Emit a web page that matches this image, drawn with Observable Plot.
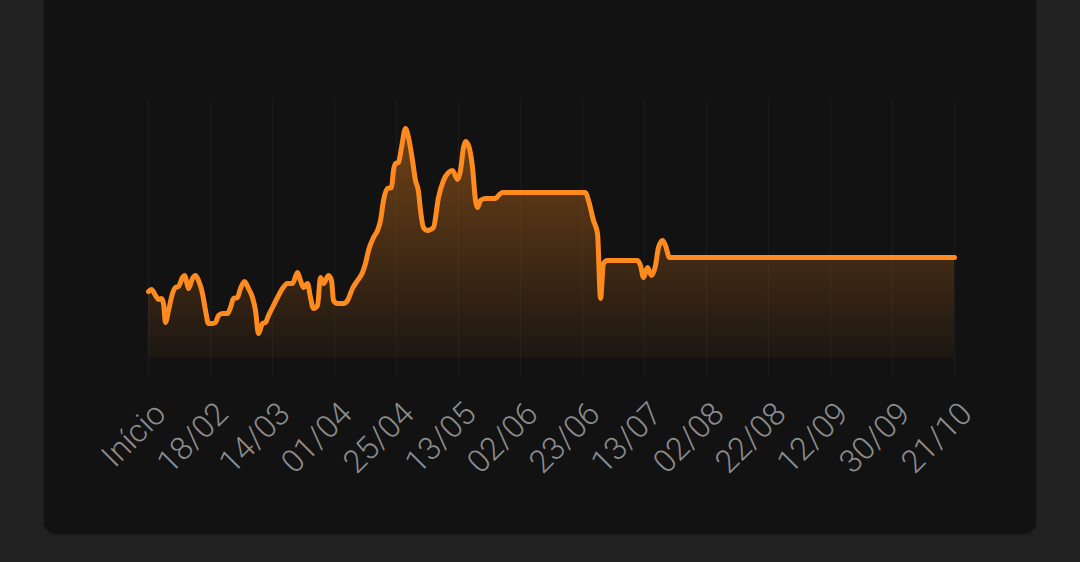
<!DOCTYPE html>
<html>
<head>
<meta charset="utf-8">
<script src="https://cdn.jsdelivr.net/npm/d3@7"></script>
<script src="https://cdn.jsdelivr.net/npm/@observablehq/plot@0.6"></script>
<style>
  html, body { margin: 0; padding: 0; width: 1080px; height: 562px; overflow: hidden; background: #212121; }
  #card { position: absolute; left: 44px; top: -20px; width: 992px; height: 553px; background: #121212; border-radius: 12px; box-shadow: 0 1px 2px rgba(0,0,0,0.5); }
  #chart { position: absolute; left: 0; top: 0; }
</style>
</head>
<body>
<div id="card"></div>
<div id="chart"></div>
<script>
// sample index along the series (0 = "Início")
const idx = [0,3,7,10,13,15,17,20,24,27,30,34,36,39,40,44,47,50,54,57,60,64,67,70,74,79,82,85,89,92,96,100,104,107,110,114,117,120,124,129,134,139,144,149,152,155,159,162,165,169,172,175,180,183,185,189,195,199,204,209,214,217,220,225,229,232,235,239,243,245,247,250,253,257,260,264,267,270,272,275,279,282,285,290,295,300,304,309,312,315,317,320,324,327,329,332,337,347,350,354,437,440,445,449,452,455,459,489,492,495,499,503,507,510,514,517,521,525,806];
// series values
const val = [67,69,63,59,60,55,36,48,65,71,72,81,83,73,70,80,83,78,65,48,35,35,36,43,45,45,51,60,61,70,77,70,61,48,25,35,36,43,51,61,70,75,75,86,78,71,75,61,50,53,81,75,83,78,58,55,55,58,70,78,86,95,108,121,128,138,158,170,171,188,195,196,211,230,221,198,178,167,148,131,128,129,131,161,178,186,188,179,188,211,217,213,191,158,151,158,160,160,163,166,166,158,138,125,60,95,98,98,93,81,91,83,93,111,118,113,101,101,101];
// tick labels
const labels = ["Início","18/02","14/03","01/04","25/04","13/05","02/06","23/06","13/07","02/08","22/08","12/09","30/09","21/10"];
const tickStep = 62; // samples between labels
const tickPos = labels.map((_, k) => k * tickStep);

const data = idx.map((i, k) => ({i, v: val[k]}));

const svg = Plot.plot({
  width: 1080,
  height: 562,
  marginLeft: 148,
  marginRight: 126,
  marginTop: 100,
  marginBottom: 186,
  x: {domain: [0, 806], axis: null},
  y: {domain: [-18, 258], axis: null},
  style: {background: "transparent", fontFamily: "Roboto, sans-serif"},
  marks: [
    Plot.ruleX(tickPos, {stroke: "#ffffff", strokeOpacity: 0.035, strokeWidth: 1.5}),
    Plot.areaY(data, {x: "i", y: "v", curve: "monotone-x", fill: "url(#areaGrad)"}),
    Plot.lineY(data, {x: "i", y: "v", curve: "monotone-x", stroke: "#ff8a1e", strokeWidth: 5, strokeLinejoin: "round", strokeLinecap: "round"}),
    Plot.axisX({
      ticks: tickPos,
      tickFormat: (d) => labels[Math.round(d / tickStep)],
      tickRotate: -45,
      tickSize: 0,
      tickPadding: 32,
      fontSize: 32,
      fontWeight: 300,
      fill: "#8c8c8c",
      dx: 12,
      label: null
    })
  ]
});
svg.insertAdjacentHTML("afterbegin",
  `<defs><linearGradient id="areaGrad" x1="0" y1="0" x2="0" y2="1">
     <stop offset="0" stop-color="#ff8a1e" stop-opacity="0.4"/>
     <stop offset="1" stop-color="#ff8a1e" stop-opacity="0.04"/>
   </linearGradient></defs>`);
document.getElementById("chart").appendChild(svg);
</script>
</body>
</html>
